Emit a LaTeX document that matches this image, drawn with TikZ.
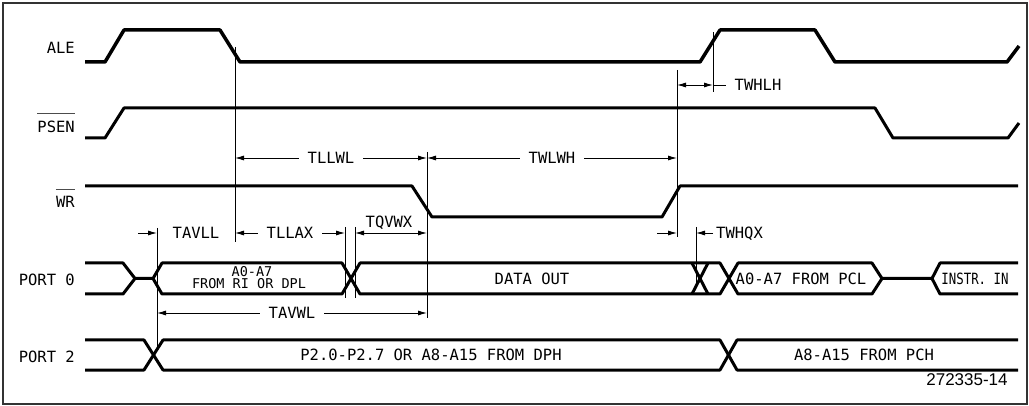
\documentclass[tikz,border=0pt]{standalone}
\usepackage{fontspec}
\setmainfont{Liberation Sans}
\newfontfamily\lf{DejaVu Sans Mono}
\usetikzlibrary{arrows.meta}
\begin{document}
\begin{tikzpicture}[x=1pt,y=-1pt,
  sig/.style={line width=3pt,line join=round},
  thinln/.style={line width=0.9pt},
  tip/.tip={Latex[length=9pt,width=5pt]},
  dim/.style={line width=0.9pt,tip-tip},
  rdim/.style={line width=0.9pt,-tip},
  lbl/.style={font=\lf\fontsize{15.5}{18}\selectfont,inner sep=0pt,text height=11.3pt,text depth=0pt},
  small/.style={font=\lf\fontsize{13.5}{15}\selectfont,inner sep=0pt,text height=9.8pt,text depth=0pt},
  gap/.style={lbl,fill=white,inner xsep=9pt,inner ysep=1pt}]
\useasboundingbox (0,0) rectangle (1029,406);
\draw[line width=1.5pt,black!80] (3,3) rectangle (1027,404);
% signal names
\node[lbl,anchor=east] (ale) at (75,48) {ALE};
\node[lbl,anchor=east] (psen) at (75,126.5) {PSEN};
\node[lbl,anchor=east] (wr) at (75,201.5) {WR};
\node[lbl,anchor=east] (p0) at (75,280) {PORT 0};
\node[lbl,anchor=east] (p2) at (75,357) {PORT 2};
\draw[thinln,black!70] ([yshift=7pt]psen.north west) -- ([yshift=7pt]psen.north east);
\draw[thinln,black!70] ([yshift=6pt]wr.north west) -- ([yshift=6pt]wr.north east);
% waveforms
\draw[sig,line width=3.5pt] (85,62)--(105,62)--(124,30)--(220,30)--(240,62)--(700,62)--(720,30)--(815,30)--(835,62)--(1007,62)--(1019,46);
\draw[sig] (85,138)--(105,138)--(124,108)--(875,108)--(893,138)--(1008,138)--(1019,123);
\draw[sig] (85,186)--(412,186)--(432,217)--(662,217)--(680,186)--(1018,186);
% port 0
\draw[sig] (85,263)--(123,263)--(135,278.5)--(153,278.5)--(162,263)--(342,263)--(360,294)--(720,294)--(738,263)--(872,263)--(882,278.5)--(932,278.5)--(940,263)--(1018,263);
\draw[sig] (85,294)--(123,294)--(135,278.5);
\draw[sig] (153,278.5)--(162,294)--(342,294)--(360,263)--(720,263)--(738,294)--(872,294)--(882,278.5);
\draw[sig] (932,278.5)--(940,294)--(1018,294);
\draw[sig] (692,263)--(708,294) (692,294)--(708,263);
% port 2
\draw[sig] (85,340)--(144,340)--(163,370)--(720,370)--(737,340)--(1018,340);
\draw[sig] (85,370)--(144,370)--(163,340)--(720,340)--(737,370)--(1018,370);
% bus texts
\node[small] (a07) at (252,272) {A0-A7};
\node[small] (from) at (249,284) {FROM RI OR DPL};
\node[lbl] (dout) at (532,278.5) {DATA OUT};
\node[lbl] (pcl) at (801,278.5) {A0-A7 FROM PCL};
\node[lbl] (instr) at (975,278.5) {\scalebox{0.8}[1]{INSTR. IN}};
\node[lbl] (dph) at (431,355) {P2.0-P2.7 OR A8-A15 FROM DPH};
\node[lbl] (pch) at (864,355) {A8-A15 FROM PCH};
\node[font=\fontsize{17}{20}\selectfont,inner sep=0pt] (ref) at (967,380) {272335-14};
% timing markers
\coordinate (v1t) at (235,47); \coordinate (v1b) at (235,242);
\coordinate (v2t) at (157,228); \coordinate (v2b) at (157,350);
\coordinate (v3t) at (345,227); \coordinate (v3b) at (345,298);
\coordinate (v4t) at (355,227); \coordinate (v4b) at (355,298);
\coordinate (v5t) at (427,152); \coordinate (v5b) at (427,318);
\coordinate (v6t) at (677,70);  \coordinate (v6b) at (677,237);
\coordinate (v7t) at (696,227); \coordinate (v7b) at (696,285);
\coordinate (v8t) at (713,32);  \coordinate (v8b) at (713,92);
\foreach \v in {1,...,8} \draw[thinln] (v\v t) -- (v\v b);
% dimensions
\draw[dim] (235,158) -- node[gap] (tllwl) {TLLWL} (427,158);
\draw[dim] (427,158) -- node[gap] (twlwh) {TWLWH} (677,158);
\draw[rdim] (138,233) -- (157,233);
\node[lbl] (tavll) at (196,233) {TAVLL};
\draw[dim] (235,233) -- node[gap] (tllax) {TLLAX} (345,233);
\draw[dim] (355,233) -- (427,233);
\node[lbl] (tqvwx) at (389,222) {TQVWX};
\draw[dim] (157,313) -- node[gap] (tavwl) {TAVWL} (427,313);
\draw[dim] (677,85) -- (713,85);
\draw[thinln] (713,85) -- (726,85);
\node[lbl] (twhlh) at (758,85) {TWHLH};
\draw[rdim] (657,233) -- (677,233);
\draw[rdim] (713,233) -- (696,233);
\node[lbl,anchor=west] (twhqx) at (716,233) {TWHQX};
\end{tikzpicture}
\end{document}
